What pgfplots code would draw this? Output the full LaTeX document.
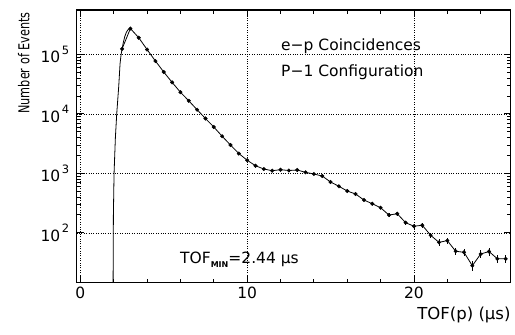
\documentclass[border=0pt]{standalone}
\usepackage{fontspec}
\setmainfont{DejaVu Sans}
\usepackage{pgfplots}
\usepackage{pgfplotstable}
\pgfplotsset{compat=1.18}

\pgfplotstableread{
x y e
2.5 123500 351
3.0 271400 521
3.5 190100 436
4.0 120400 347
4.5 77200 278
5.0 50400 224
5.5 33800 184
6.0 23070 152
6.5 16540 129
7.0 11720 108
7.5 8340 91
8.0 6000 77
8.5 4200 65
9.0 2990 55
9.5 2150 46
10.0 1660 41
10.5 1342 37
11.0 1181 34
11.5 1106 33
12.0 1150 34
12.5 1114 33
13.0 1136 34
13.5 1039 32
14.0 973 31
14.5 901 30
15.0 714 27
15.5 605 25
16.0 504 22
16.5 449 21
17.0 356 19
17.5 308 18
18.0 264 16
18.5 199 14
19.0 209 14
19.5 148 12
20.0 129 11
20.5 134 12
21.0 91 9.5
21.5 69 8.3
22.0 74 8.6
22.5 49 7.0
23.0 47 6.9
23.5 28 5.3
24.0 44 6.6
24.5 48.5 7.0
25.0 36.6 6.0
25.5 36.6 6.0
}\data

\newcommand{\tl}[1]{10\kern1.5pt\raisebox{0.55em}{\fontsize{11.5}{11.5}\selectfont #1}}

\begin{document}
\begin{tikzpicture}
\path[use as bounding box] (-76.7pt,-52.3pt) rectangle (438.3pt,282.7pt);
\begin{axis}[
  at={(0,0)}, anchor=south west,
  scale only axis, width=434pt, height=272.7pt,
  xmin=-0.22, xmax=25.8,
  ymode=log, ymin=14.5, ymax=5.56e5,
  xtick={0,10,20}, xticklabels={0,10,20},
  minor xtick={2,4,6,8,12,14,16,18,22,24},
  ytick={100,1000,10000,100000},
  yticklabels={\tl{2},\tl{3},\tl{4},\tl{5}},
  grid=major,
  major grid style={black, line width=0.6pt, dash pattern=on 0.8pt off 1.6pt},
  tick align=inside,
  major tick length=7pt, minor tick length=4pt,
  every tick/.style={black, line width=0.8pt},
  axis line style={line width=1.2pt},
  ticklabel style={font=\fontsize{15.5}{16}\selectfont},
  xticklabel style={yshift=-1pt},
  yticklabel style={xshift=-4pt},
  clip=true,
]
% fitted curve: rising edge and peak
\addplot[black, line width=0.8pt] coordinates {
 (1.955,5) (1.98,200) (2.02,1000) (2.10,4000) (2.18,10000) (2.30,29000)
 (2.38,70000) (2.44,98000) (2.5,123500) (2.58,160000) (2.66,198000)
 (2.76,236000) (2.86,260000) (2.95,271000) (3.0,271400)
};
\addplot[black, line width=0.8pt] table[x=x,y=y] {\data};
% data points
\addplot[only marks, mark=*, mark size=1.8pt, black,
  error bars/.cd, y dir=both, y explicit,
  error bar style={line width=0.7pt}, error mark=none]
  table[x=x,y=y,y error=e] {\data};

\node[anchor=base west, inner sep=0pt, font=\fontsize{15.5}{16}\selectfont]
  at (rel axis cs:0.4707,0.8497) {e−p Coincidences};
\node[anchor=base west, inner sep=0pt, font=\fontsize{15.5}{16}\selectfont]
  at (rel axis cs:0.4707,0.7543) {P−1 Configuration};
\node[anchor=base west, inner sep=0pt, font=\fontsize{15.5}{16}\selectfont]
  at (rel axis cs:0.238,0.0686) {TOF\raisebox{-0.2em}{\fontsize{8}{8}\selectfont\bfseries MIN}=2.44 μs};
\end{axis}
\node[anchor=north east, inner sep=0pt, font=\fontsize{16.5}{17}\selectfont]
  at (434pt,-24.5pt) {TOF(p) (μs)};
\node[rotate=90, anchor=center, inner sep=0pt, font=\fontsize{15}{15}\selectfont]
  at (-53pt,219.7pt) {\scalebox{0.75}[1]{Number of Events}};
\end{tikzpicture}
\end{document}
